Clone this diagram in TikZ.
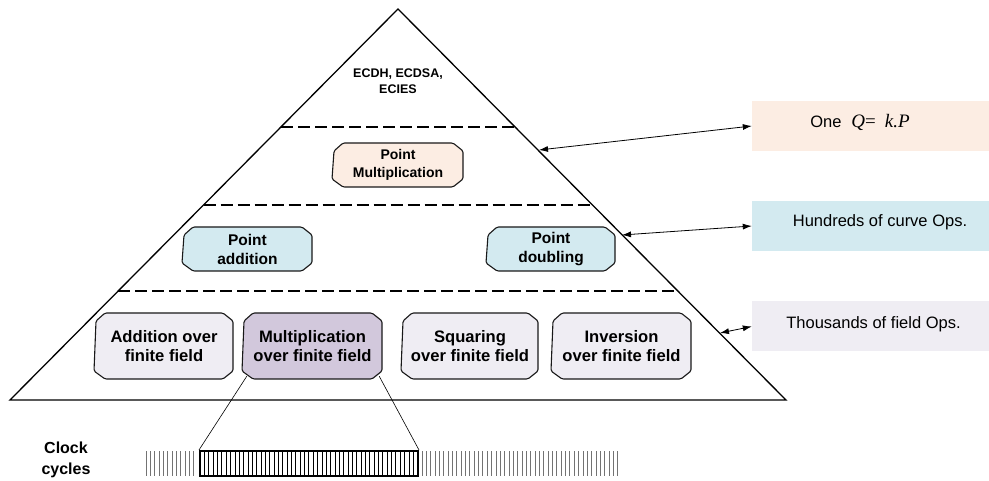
\documentclass[tikz,border=0pt]{standalone}
\usepackage{fontspec}
\setmainfont{Liberation Sans}
\newfontfamily\tmsfont{Liberation Serif}
\usetikzlibrary{arrows.meta,calc}
\definecolor{peach}{HTML}{FCEDE3}
\definecolor{lblue}{HTML}{D3EAF0}
\definecolor{lgrey}{HTML}{EFEDF3}
\definecolor{lpurple}{HTML}{D2C8DC}
\tikzset{
  boxline/.style={line width=1.1pt, rounded corners=1.5pt, draw=black!90},
  boxtext/.style={font=\bfseries\fontsize{16}{19.5}\selectfont, align=center, inner sep=0pt},
  pointfont/.style={font=\bfseries\fontsize{15.5}{19}\selectfont},
  pmfont/.style={font=\bfseries\fontsize{14}{18}\selectfont},
  fieldfont/.style={font=\bfseries\fontsize{16.6}{19.5}\selectfont},
  dashline/.style={line width=1.5pt, dash pattern=on 12pt off 5pt},
  dblarrow/.style={line width=0.8pt, {Latex[length=9pt,width=6pt]}-{Latex[length=9pt,width=6pt]}},
  labelbox/.style={inner sep=0pt, minimum width=237pt, minimum height=50pt},
  labeltext/.style={font=\fontsize{16.5}{20}\selectfont, inner sep=0pt},
  tickout/.style={line width=0.9pt, black!55},
  tickin/.style={line width=0.6pt, black},
}
% name, cx, cy, w, h, fill, font style, text
\newcommand\chbox[8]{%
  \begin{scope}[shift={(#2,#3)}]
    \pgfmathsetmacro\hw{#4/2}\pgfmathsetmacro\hh{#5/2}
    \filldraw[boxline,fill=#6] (-\hw+10,-\hh) -- (\hw-10,-\hh) -- (\hw,-\hh+8) -- (\hw,\hh-8) -- (\hw-10,\hh) -- (-\hw+10,\hh) -- (-\hw-1,\hh-8) -- (-\hw+1,-\hh+8) -- cycle;
    \node[boxtext,#7,minimum width=#4pt,minimum height=#5pt] (#1) at (0,0) {#8};
  \end{scope}}
\begin{document}
\begin{tikzpicture}[x=1pt,y=-1pt]
\useasboundingbox (0,0) rectangle (989,481);
% pyramid
\coordinate (apex) at (398,9);
\coordinate (bl) at (10,400);
\coordinate (br) at (786,400);
\draw[line width=1.3pt, line join=miter] (apex) -- (br) -- (bl) -- cycle;
% level separators
\coordinate (d1l) at (281,127); \coordinate (d1r) at (515,127);
\coordinate (d2l) at (203.5,205); \coordinate (d2r) at (592,205);
\coordinate (d3l) at (118,291); \coordinate (d3r) at (678,291);
\draw[dashline] (d1l) -- (d1r);
\draw[dashline] (d2l) -- (d2r);
\draw[dashline] (d3l) -- (d3r);
% top text
\node[align=center, inner sep=0pt, font=\bfseries\fontsize{12.5}{16}\selectfont] (ecc) at (398,81) {ECDH, ECDSA,\\ECIES};
% boxes
\chbox{pm}{398}{165}{130}{44}{peach}{pmfont}{Point\\Multiplication}
\chbox{pa}{247.5}{249}{129}{44}{lblue}{pointfont}{Point\\addition}
\chbox{pd}{551}{249}{128}{44}{lblue}{pointfont}{Point\\doubling}
\chbox{fa}{164}{346}{138}{66}{lgrey}{fieldfont}{Addition over\\finite field}
\chbox{fm}{312.5}{346}{139}{66}{lpurple}{fieldfont}{Multiplication\\over finite field}
\chbox{fs}{470}{346}{136}{66}{lgrey}{fieldfont}{Squaring\\over finite field}
\chbox{fi}{621.5}{346}{139}{66}{lgrey}{fieldfont}{Inversion\\over finite field}
% right labels
\node[labelbox, fill=peach] (q1) at (870.5,126) {};
\node[labelbox, fill=lblue] (q2) at (870.5,226) {};
\node[labelbox, fill=lgrey] (q3) at (870.5,326.5) {};
\node[labeltext] (t1) at (860,122) {One\hspace{10pt}{\tmsfont\itshape\fontsize{19}{20}\selectfont Q}{\tmsfont\fontsize{19}{20}\selectfont =}\hspace{9pt}{\tmsfont\itshape\fontsize{19}{20}\selectfont k.P}};
\node[labeltext] (t2) at (880,222) {Hundreds of curve Ops.};
\node[labeltext] (t3) at (873.5,324) {Thousands of field Ops.};
% arrows
\coordinate (a1) at (539,150);
\coordinate (a2) at (622,235);
\coordinate (a3) at (720,333);
\draw[dblarrow] (a1) -- (q1.west);
\draw[dblarrow] (a2) -- (q2.west);
\draw[dblarrow] (a3) -- (q3.west);
% clock cycles
\node[align=center, inner sep=0pt, font=\bfseries\fontsize{16}{21}\selectfont] (clab) at (66,460) {Clock\\cycles};
\foreach \x in {146,150.35,...,198} \draw[tickout] (\x,451) -- (\x,476);
\foreach \x in {204.35,208.7,...,415} \draw[tickin] (\x,451) -- (\x,476);
\foreach \x in {422,426.35,...,618} \draw[tickout] (\x,451) -- (\x,476);
\node[draw, line width=2pt, inner sep=0pt, minimum width=218pt, minimum height=25pt] (clk) at (309,463.5) {};
\draw[line width=0.6pt] ($(fm.south west)+(4pt,3pt)$) -- (clk.north west);
\draw[line width=0.6pt] ($(fm.south east)+(-3pt,3pt)$) -- (clk.north east);
\end{tikzpicture}
\end{document}
